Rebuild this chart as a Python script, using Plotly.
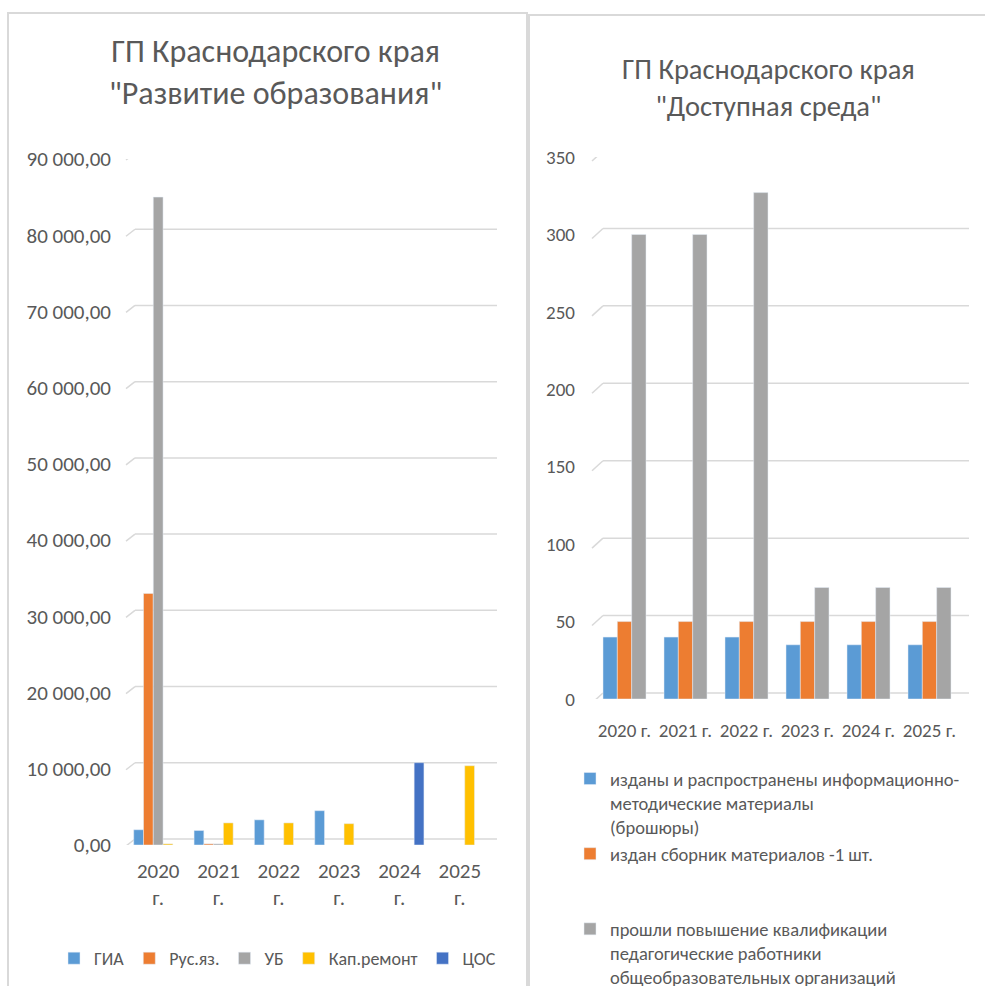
import plotly.graph_objects as go

# ---------------- data ----------------
years_left = ["2020<br>г.", "2021<br>г.", "2022<br>г.", "2023<br>г.", "2024<br>г.", "2025<br>г."]
left_series = ["ГИА", "Рус.яз.", "УБ", "Кап.ремонт", "ЦОС"]
gia = [2000, 1900, 3300, 4500, None, None]
rus = [33000, 150, None, None, None, None]
ub = [85000, 150, None, None, None, None]
kap = [150, 2900, 2900, 2800, None, 10400]
cos = [None, None, None, None, 10800, None]
left_ticks = [0, 10000, 20000, 30000, 40000, 50000, 60000, 70000, 80000, 90000]
left_ticktext = ["0,00", "10 000,00", "20 000,00", "30 000,00", "40 000,00",
                 "50 000,00", "60 000,00", "70 000,00", "80 000,00", "90 000,00"]

years_right = ["2020 г.", "2021 г.", "2022 г.", "2023 г.", "2024 г.", "2025 г."]
right_series = [
    "изданы и распространены информационно-<br>методические материалы<br>(брошюры)",
    "издан сборник материалов -1 шт.<br>\u00a0<br>\u00a0",
    "прошли повышение квалификации<br>педагогические работники<br>общеобразовательных организаций",
]
brochures = [40, 40, 40, 35, 35, 35]
collection = [50, 50, 50, 50, 50, 50]
teachers = [300, 300, 327, 72, 72, 72]
right_ticks = [0, 50, 100, 150, 200, 250, 300, 350]

left_titles = "ГП Краснодарского края<br>\"Развитие образования\""
right_titles = "ГП Краснодарского края<br>\"Доступная среда\""

# ---------------- style ----------------
W, H = 985, 986
FONT = "Carlito, Lato, sans-serif"
TXT = "#595959"
GRID = "#d9d9d9"
left_colors = ["#5B9BD5", "#ED7D31", "#A5A5A5", "#FFC000", "#4472C4"]
right_colors = ["#5B9BD5", "#ED7D31", "#A5A5A5"]
RIGHT_BAR_W = 0.235


def px(x):
    return x / W


def py(y):
    return 1 - y / H


LX = [px(128), px(490)]
LY = [py(845), py(159)]
RX = [px(594), px(960)]
RY = [py(699), py(157)]

fig = go.Figure()

for name, vals, col in zip(left_series, [gia, rus, ub, kap, cos], left_colors):
    fig.add_trace(go.Bar(x=years_left, y=vals, name=name, marker_color=col,
                         xaxis="x", yaxis="y", legend="legend"))

n_r = len(right_series)
for i, (name, vals, col) in enumerate(zip(right_series, [brochures, collection, teachers], right_colors)):
    fig.add_trace(go.Bar(x=years_right, y=vals, name=name, marker_color=col,
                         width=RIGHT_BAR_W, offset=-n_r * RIGHT_BAR_W / 2 + i * RIGHT_BAR_W,
                         xaxis="x2", yaxis="y2", legend="legend2"))

shapes = []
# panel frames
shapes.append(dict(type="rect", xref="paper", yref="paper", x0=px(8), x1=px(527),
                   y0=py(1000), y1=py(13), line=dict(color=GRID, width=2), layer="below"))
shapes.append(dict(type="rect", xref="paper", yref="paper", x0=px(529), x1=px(1000),
                   y0=py(1000), y1=py(15), line=dict(color=GRID, width=2), layer="below"))


# pseudo-3D back-wall gridlines
def add_grid(ticks, yref, x0p, dx, dy0, dy1, xend):
    for v in ticks:
        shapes.append(dict(type="line", xref="paper", xsizemode="pixel", xanchor=x0p,
                           x0=-2, x1=dx, yref=yref, ysizemode="pixel", yanchor=v,
                           y0=dy0, y1=dy1, line=dict(color=GRID, width=1.5), layer="below"))
        shapes.append(dict(type="line", xref="paper", x0=x0p + px(dx), x1=xend,
                           yref=yref, ysizemode="pixel", yanchor=v, y0=dy1, y1=dy1,
                           line=dict(color=GRID, width=1.5), layer="below"))


add_grid(left_ticks, "y", LX[0], 7, -1, 6, px(497))
add_grid(right_ticks, "y2", RX[0], 9, -4, 6, px(969))

fig.update_layout(
    width=W, height=H,
    margin=dict(l=0, r=0, t=0, b=0, autoexpand=False),
    paper_bgcolor="white",
    plot_bgcolor="rgba(0,0,0,0)",
    font=dict(family=FONT, color=TXT, size=19),
    barmode="group",
    bargap=0.19,
    showlegend=True,
    shapes=shapes,
    xaxis=dict(domain=LX, anchor="y", showgrid=False, zeroline=False, showline=False,
               ticks="", tickfont=dict(size=21, color=TXT), ticklabelstandoff=11,
               fixedrange=True),
    yaxis=dict(domain=LY, anchor="x", range=[0, 90000], showgrid=False, zeroline=False,
               showline=False, tickvals=left_ticks, ticktext=left_ticktext,
               tickfont=dict(size=21, color=TXT), ticklabelstandoff=16),
    xaxis2=dict(domain=RX, anchor="y2", showgrid=False, zeroline=False, showline=False,
                ticks="", tickfont=dict(size=19, color=TXT), ticklabelstandoff=18),
    yaxis2=dict(domain=RY, anchor="x2", range=[0, 350], showgrid=False, zeroline=False,
                showline=False, tickvals=right_ticks, tickfont=dict(size=19, color=TXT),
                ticklabelstandoff=18),
    legend=dict(orientation="h", x=px(54), xanchor="left", y=py(940), yanchor="top",
                font=dict(size=18, color=TXT), bgcolor="rgba(0,0,0,0)", itemwidth=30,
                traceorder="normal"),
    legend2=dict(orientation="v", x=px(570), xanchor="left", y=py(760), yanchor="top",
                 font=dict(size=18.5, color=TXT), bgcolor="rgba(0,0,0,0)", itemwidth=30,
                 valign="top", traceorder="normal", tracegroupgap=0),
    annotations=[
        dict(text=left_titles, xref="paper", yref="paper", x=px(275), y=py(72),
             xanchor="center", yanchor="middle", showarrow=False,
             font=dict(size=32, color=TXT, family=FONT)),
        dict(text=right_titles, xref="paper", yref="paper", x=px(768), y=py(88),
             xanchor="center", yanchor="middle", showarrow=False,
             font=dict(size=28.5, color=TXT, family=FONT)),
    ],
)

fig.write_html(
    "out.html",
    config={"displayModeBar": False},
    post_script="document.body.style.margin='0';document.body.style.overflow='hidden';"
                "document.documentElement.style.overflow='hidden';",
)
